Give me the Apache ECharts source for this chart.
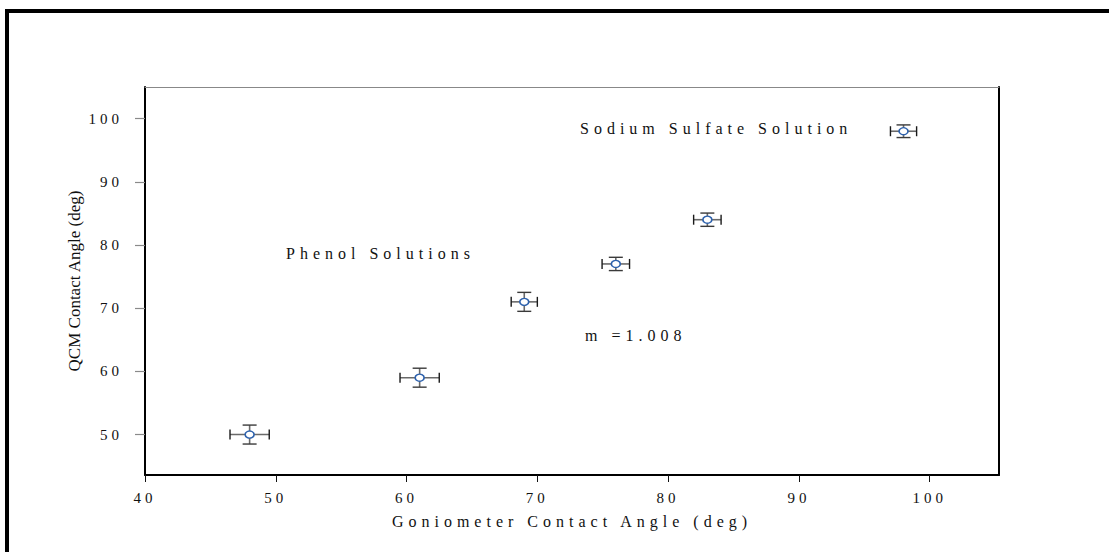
<!DOCTYPE html>
<html>
<head>
<meta charset="utf-8">
<script src="https://cdn.jsdelivr.net/npm/echarts@6/dist/echarts.min.js"></script>
<style>
  html, body { margin: 0; padding: 0; background: #fff; }
  #chart { width: 1109px; height: 552px; }
</style>
</head>
<body>
<div id="chart"></div>
<script>
// Contact angle comparison: goniometer vs QCM, with error bars on both axes
const goniometerAngle = [48, 61, 69, 76, 83, 98];
const qcmAngle        = [50, 59, 71, 77, 84, 98];
const goniometerErr   = [1.5, 1.5, 1.0, 1.05, 1.05, 1.0];
const qcmErr          = [1.5, 1.5, 1.5, 1.05, 1.05, 1.0];
const xTicks = [40, 50, 60, 70, 80, 90, 100];
const yTicks = [50, 60, 70, 80, 90, 100];
const xTitle = 'Goniometer Contact Angle (deg)';
const yTitle = 'QCM Contact Angle (deg)';
const noteSulfate = 'Sodium Sulfate Solution';
const notePhenol = 'Phenol Solutions';
const noteSlope = 'm =1.008';

const FONT = "'Liberation Serif', 'Times New Roman', serif";

const rows = goniometerAngle.map((x, i) => [x, qcmAngle[i], goniometerErr[i], qcmErr[i]]);

const chart = echarts.init(document.getElementById('chart'), null, { renderer: 'svg' });

function errorBars(params, api) {
  const x = api.value(0), y = api.value(1), ex = api.value(2), ey = api.value(3);
  const l = api.coord([x - ex, y]);
  const r = api.coord([x + ex, y]);
  const t = api.coord([x, y + ey]);
  const b = api.coord([x, y - ey]);
  const capH = 5, capW = 7;
  const bar = { stroke: '#6a6a6a', lineWidth: 1.6 };
  const capX = { stroke: '#1a1a1a', lineWidth: 1.4 };
  const capY = { stroke: '#3a3a3a', lineWidth: 1.4 };
  return {
    type: 'group',
    children: [
      { type: 'line', shape: { x1: l[0], y1: l[1], x2: r[0], y2: r[1] }, style: bar },
      { type: 'line', shape: { x1: t[0], y1: t[1], x2: b[0], y2: b[1] }, style: bar },
      { type: 'line', shape: { x1: l[0], y1: l[1] - capH, x2: l[0], y2: l[1] + capH }, style: capX },
      { type: 'line', shape: { x1: r[0], y1: r[1] - capH, x2: r[0], y2: r[1] + capH }, style: capX },
      { type: 'line', shape: { x1: t[0] - capW, y1: t[1], x2: t[0] + capW, y2: t[1] }, style: capY },
      { type: 'line', shape: { x1: b[0] - capW, y1: b[1], x2: b[0] + capW, y2: b[1] }, style: capY }
    ]
  };
}

const hidden = { show: false };

chart.setOption({
  animation: false,
  backgroundColor: '#fff',
  textStyle: { fontFamily: FONT },
  grid: { left: 145, right: 110, top: 87, bottom: 77, containLabel: false },
  xAxis: [
    {
      type: 'value', min: 40, max: 105.3, position: 'bottom',
      name: xTitle, nameLocation: 'middle', nameGap: 38,
      nameTextStyle: { fontFamily: FONT, fontSize: 16, color: '#111' },
      axisLine: { show: true, onZero: false, lineStyle: { color: '#000', width: 2 } },
      axisTick: { show: true, customValues: xTicks, length: 7, lineStyle: { color: '#111', width: 1 } },
      axisLabel: { customValues: xTicks, margin: 15, fontFamily: FONT, fontSize: 15, color: '#111' },
      splitLine: hidden
    },
    {
      type: 'value', min: 40, max: 105.3, position: 'top',
      axisLine: { show: true, onZero: false, lineStyle: { color: '#888', width: 1 } },
      axisTick: hidden, axisLabel: hidden, splitLine: hidden
    }
  ],
  yAxis: [
    {
      type: 'value', min: 43.6, max: 105, position: 'left',
      name: yTitle, nameLocation: 'middle', nameGap: 62, nameRotate: 90,
      nameTextStyle: { fontFamily: FONT, fontSize: 17, color: '#111' },
      axisLine: { show: true, onZero: false, lineStyle: { color: '#000', width: 2 } },
      axisTick: { show: true, customValues: yTicks, length: 10, lineStyle: { color: '#8a8a8a', width: 1.2 } },
      axisLabel: { customValues: yTicks, margin: 22, fontFamily: FONT, fontSize: 15, color: '#111' },
      splitLine: hidden
    },
    {
      type: 'value', min: 43.6, max: 105, position: 'right',
      axisLine: { show: true, onZero: false, lineStyle: { color: '#000', width: 2 } },
      axisTick: hidden, axisLabel: hidden, splitLine: hidden
    }
  ],
  graphic: [
    { type: 'rect', left: 5, top: 9, shape: { width: 1104, height: 4 }, style: { fill: '#000' } },
    { type: 'rect', left: 5, top: 9, shape: { width: 4, height: 543 }, style: { fill: '#000' } },
    { type: 'text', left: 580, top: 120, style: { text: noteSulfate, font: '16px ' + FONT, fill: '#111' } },
    { type: 'text', left: 286, top: 245, style: { text: notePhenol, font: '16px ' + FONT, fill: '#111' } },
    { type: 'text', left: 585, top: 327, style: { text: noteSlope, font: '16px ' + FONT, fill: '#111' } }
  ],
  series: [
    {
      type: 'custom', name: 'error',
      renderItem: errorBars,
      encode: { x: 0, y: 1 },
      data: rows, z: 2, silent: true
    },
    {
      type: 'scatter', name: 'points',
      data: rows.map(r => [r[0], r[1]]),
      symbol: 'circle', symbolSize: [9, 7],
      itemStyle: { color: '#fff', borderColor: '#2e62ad', borderWidth: 1.5, opacity: 1 },
      z: 3
    }
  ]
});

// Wide letter spacing for every label except the vertical axis title;
// tick numbers get slightly tighter spacing than the words
function spaceLetters() {
  document.querySelectorAll('#chart text').forEach(t => {
    const s = t.textContent;
    if (s === yTitle) t.style.letterSpacing = '0px';
    else if (/^\d+$/.test(s)) t.style.letterSpacing = '4px';
    else t.style.letterSpacing = '5px';
  });
}
chart.on('finished', spaceLetters);
spaceLetters();
</script>
</body>
</html>
